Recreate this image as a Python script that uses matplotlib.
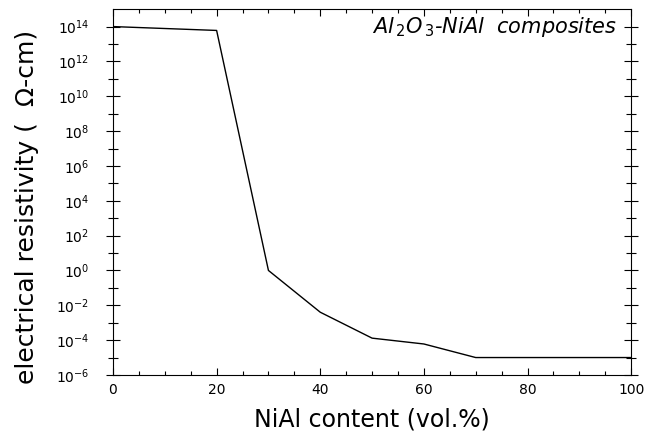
import numpy as np
import matplotlib
matplotlib.use("Agg")
import matplotlib.pyplot as plt
from matplotlib.ticker import NullFormatter, LogFormatterMathtext, MultipleLocator

# NiAl content (vol.%) and resistivity (Ohm-cm)
nial_content = [0, 20, 30, 40, 50, 60, 70, 100]
resistivity = [1e14, 6e13, 1.0, 4e-3, 1.3e-4, 6e-5, 1e-5, 1e-5]

y_major = [1e-6, 1e-4, 1e-2, 1e0, 1e2, 1e4, 1e6, 1e8, 1e10, 1e12, 1e14]
y_minor = [1e-5, 1e-3, 1e-1, 1e1, 1e3, 1e5, 1e7, 1e9, 1e11, 1e13]

plt.rcParams['mathtext.fontset'] = 'dejavusans'
plt.rcParams['mathtext.default'] = 'it'

fig = plt.figure(figsize=(6.52, 4.36), dpi=100)
ax1 = fig.add_axes([0.1733, 0.140, 0.7947, 0.839])

ax1.plot(nial_content, resistivity, color='black', linewidth=1.0)

ax1.set_yscale('log')
ax1.set_xlim(0, 100)
ax1.set_ylim(1e-6, 1e15)

ax1.set_yticks(y_major)
ax1.set_yticks(y_minor, minor=True)
ax1.yaxis.set_major_formatter(LogFormatterMathtext())
ax1.yaxis.set_minor_formatter(NullFormatter())

ax1.set_xticks([0, 20, 40, 60, 80, 100])
ax1.xaxis.set_minor_locator(MultipleLocator(5))

ax1.tick_params(axis='y', which='both', direction='inout', left=True, right=True)
ax1.tick_params(axis='y', which='major', length=10, width=0.8, pad=12)
ax1.tick_params(axis='y', which='minor', length=7, width=0.8)
ax1.tick_params(axis='x', which='both', direction='in', top=True, bottom=True)
ax1.tick_params(axis='x', which='major', length=5, width=0.8, pad=6)
ax1.tick_params(axis='x', which='minor', length=3, width=0.8)
ax1.tick_params(axis='both', which='major', labelsize=10, colors='black')

for spine in ax1.spines.values():
    spine.set_linewidth(0.8)

ax1.set_xlabel('NiAl content (vol.%)', fontsize=17)
ax1.set_ylabel('electrical resistivity (  \u03a9-cm)', fontsize=18)
ax1.xaxis.set_label_coords(0.5, -0.09)
ax1.yaxis.set_label_coords(-0.143, 0.46)

ax1.text(0.973, 0.984, r'$Al_{\,2}O_{\,3}$-NiAl  composites', transform=ax1.transAxes,
         ha='right', va='top', fontsize=15, style='italic')

fig.savefig('out.png', dpi=100)
plt.close(fig)
